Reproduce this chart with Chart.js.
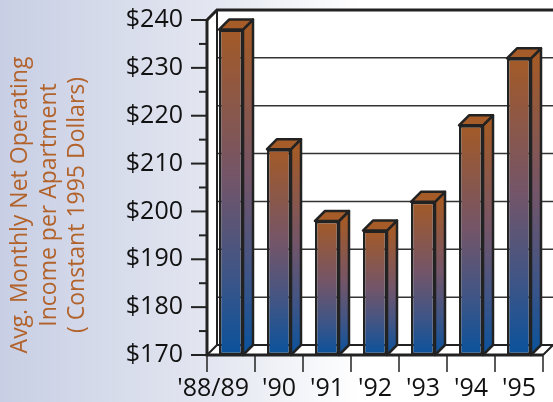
<!DOCTYPE html>
<html>
<head>
    <title>Net Operating Income per Apartment</title>
    <script src="https://cdn.jsdelivr.net/npm/chart.js"></script>
    <style>
        body {
            margin: 0;
            padding: 0;
            background: #fff;
        }
        canvas {
            display: block;
        }
    </style>
</head>
<body>
    <canvas id="incomeChart" width="553" height="402"></canvas>

    <script>
        // Data
        const years = ["'88/89", "'90", "'91", "'92", "'93", "'94", "'95"];
        const income = [238, 213, 198, 196, 202, 218, 232];
        const yMin = 170;
        const yMax = 240;
        const titleLines = ['Avg. Monthly Net Operating', 'Income per Apartment', '( Constant 1995 Dollars)'];

        const depth = 10;
        const ink = '#222';
        const fontFamily = "'Open Sans', 'Noto Sans', sans-serif";

        function barGradient(ctx, top, bottom) {
            const g = ctx.createLinearGradient(0, top, 0, bottom);
            g.addColorStop(0, '#a35a27');
            g.addColorStop(0.45, '#745568');
            g.addColorStop(0.75, '#3f5586');
            g.addColorStop(1, '#0a529c');
            return g;
        }

        // walls, floor, 3D bar sides, category labels and the rotated axis title
        const threeD = {
            id: 'threeD',
            beforeDraw(chart) {
                const ctx = chart.ctx;
                const g = ctx.createLinearGradient(0, 0, 360, 0);
                g.addColorStop(0, '#c8cfe4');
                g.addColorStop(0.6, '#e4e7f1');
                g.addColorStop(1, '#ffffff');
                ctx.save();
                ctx.fillStyle = g;
                ctx.fillRect(0, 0, chart.width, chart.height);
                ctx.restore();
            },
            beforeDatasetsDraw(chart) {
                const ctx = chart.ctx;
                const a = chart.chartArea;
                const y = chart.scales.y;
                const L = a.left, R = a.right, T = a.top, B = a.bottom, d = depth;
                ctx.save();
                ctx.fillStyle = '#fff';
                // back wall
                ctx.fillRect(L + d, T - d, R - L, B - T);
                // left wall
                ctx.beginPath();
                ctx.moveTo(L, T); ctx.lineTo(L + d, T - d); ctx.lineTo(L + d, B - d); ctx.lineTo(L, B);
                ctx.closePath(); ctx.fill();
                // floor
                ctx.beginPath();
                ctx.moveTo(L, B); ctx.lineTo(L + d, B - d); ctx.lineTo(R + d, B - d); ctx.lineTo(R, B);
                ctx.closePath(); ctx.fill();

                // grid lines on the back wall
                ctx.strokeStyle = '#333';
                ctx.lineWidth = 1.5;
                for (let v = yMin + 10; v < yMax; v += 10) {
                    const py = y.getPixelForValue(v) - d;
                    ctx.beginPath();
                    ctx.moveTo(L + d, py); ctx.lineTo(R + d, py);
                    ctx.stroke();
                }
                // back floor edge
                ctx.lineWidth = 2;
                ctx.strokeStyle = ink;
                ctx.beginPath();
                ctx.moveTo(L + d, B - d); ctx.lineTo(R + d, B - d); ctx.lineTo(R, B);
                ctx.stroke();
                // top edge of back wall
                ctx.lineWidth = 3;
                ctx.beginPath();
                ctx.moveTo(L, T); ctx.lineTo(L + d, T - d); ctx.lineTo(R + d, T - d);
                ctx.stroke();
                ctx.lineWidth = 2;
                ctx.beginPath();
                ctx.moveTo(L, B); ctx.lineTo(L + d, B - d); ctx.lineTo(L + d, T - d);
                ctx.stroke();
                ctx.restore();
            },
            afterDatasetsDraw(chart) {
                const ctx = chart.ctx;
                const meta = chart.getDatasetMeta(0);
                const d = depth;
                ctx.save();
                ctx.strokeStyle = ink;
                ctx.lineWidth = 2.5;
                ctx.lineJoin = 'round';
                meta.data.forEach(bar => {
                    const p = bar.getProps(['x', 'y', 'base', 'width'], true);
                    const l = p.x - p.width / 2, r = p.x + p.width / 2;
                    // side face
                    ctx.beginPath();
                    ctx.moveTo(r, p.y); ctx.lineTo(r + d, p.y - d); ctx.lineTo(r + d, p.base - d); ctx.lineTo(r, p.base);
                    ctx.closePath();
                    ctx.fillStyle = barGradient(ctx, p.y, p.base);
                    ctx.fill(); ctx.stroke();
                    // top face
                    ctx.beginPath();
                    ctx.moveTo(l, p.y); ctx.lineTo(l + d, p.y - d); ctx.lineTo(r + d, p.y - d); ctx.lineTo(r, p.y);
                    ctx.closePath();
                    ctx.fillStyle = '#a65c29';
                    ctx.fill(); ctx.stroke();
                });
                ctx.restore();
            },
            afterDraw(chart) {
                const ctx = chart.ctx;
                const a = chart.chartArea;
                const y = chart.scales.y;
                const x = chart.scales.x;
                ctx.save();
                ctx.strokeStyle = ink;
                // y tick marks, long on the labelled values
                ctx.lineWidth = 2;
                for (let v = yMin; v <= yMax; v += 5) {
                    const py = y.getPixelForValue(v);
                    const len = v % 10 === 0 ? 16 : 8;
                    ctx.beginPath();
                    ctx.moveTo(a.left - len, py); ctx.lineTo(a.left, py);
                    ctx.stroke();
                }
                // x tick marks between categories
                ctx.lineWidth = 1.5;
                const step = (a.right - a.left) / years.length;
                for (let i = 0; i <= years.length; i++) {
                    const px = x.getPixelForValue(0) - step / 2 + i * step;
                    ctx.beginPath();
                    ctx.moveTo(px, a.bottom); ctx.lineTo(px, a.bottom + 17);
                    ctx.stroke();
                }
                // front axis lines
                ctx.lineWidth = 3;
                ctx.beginPath();
                ctx.moveTo(a.left, a.top); ctx.lineTo(a.left, a.bottom); ctx.lineTo(a.right, a.bottom);
                ctx.stroke();

                // category labels; a wide label is pulled left so it stays in its slot
                ctx.fillStyle = '#111';
                ctx.font = '25px ' + fontFamily;
                ctx.textAlign = 'center';
                ctx.textBaseline = 'middle';
                years.forEach((label, i) => {
                    const cx = x.getPixelForValue(i);
                    const w = ctx.measureText(label).width;
                    const px = Math.min(cx, cx + step / 2 - 6 - w / 2);
                    ctx.fillText(label, px, a.bottom + 34);
                });

                // axis title, three rotated lines
                ctx.translate(0, 205);
                ctx.rotate(-Math.PI / 2);
                ctx.fillStyle = '#b2622b';
                ctx.font = '23px ' + fontFamily;
                ctx.textBaseline = 'alphabetic';
                titleLines.forEach((line, i) => {
                    ctx.fillText(line, 0, 27 + i * 28.5);
                });
                ctx.restore();
            }
        };

        const ctx = document.getElementById('incomeChart').getContext('2d');
        const incomeChart = new Chart(ctx, {
            type: 'bar',
            data: {
                labels: years,
                datasets: [{
                    data: income,
                    base: yMin,
                    backgroundColor(c) {
                        const chart = c.chart;
                        const sy = chart.scales.y;
                        if (c.type !== 'data' || !sy) return '#6b5870';
                        const top = sy.getPixelForValue(c.raw);
                        const bottom = sy.getPixelForValue(yMin);
                        if (!isFinite(top) || !isFinite(bottom) || top === bottom) return '#6b5870';
                        return barGradient(chart.ctx, top, bottom);
                    },
                    borderColor: ink,
                    borderWidth: 2.5,
                    borderSkipped: false,
                    categoryPercentage: 1,
                    barPercentage: 0.5
                }]
            },
            options: {
                responsive: false,
                animation: false,
                layout: { padding: { top: 20, right: 10, left: 0, bottom: 0 } },
                plugins: {
                    legend: { display: false },
                    tooltip: { enabled: false }
                },
                scales: {
                    x: {
                        afterFit(s) {
                            s.height = 47;
                            s.paddingLeft = 0;
                            s.paddingRight = 0;
                        },
                        grid: { display: false, drawTicks: false },
                        border: { display: false },
                        ticks: { display: false }
                    },
                    y: {
                        min: yMin,
                        max: yMax,
                        afterFit(s) {
                            s.width = 207;
                            s.paddingTop = 0;
                            s.paddingBottom = 0;
                        },
                        grid: { display: false, drawTicks: false },
                        border: { display: false },
                        ticks: {
                            stepSize: 5,
                            padding: 24,
                            color: '#111',
                            font: { family: fontFamily, size: 25 },
                            callback: v => v % 10 === 0 ? '$' + v : ''
                        }
                    }
                }
            },
            plugins: [threeD]
        });
    </script>
</body>
</html>
